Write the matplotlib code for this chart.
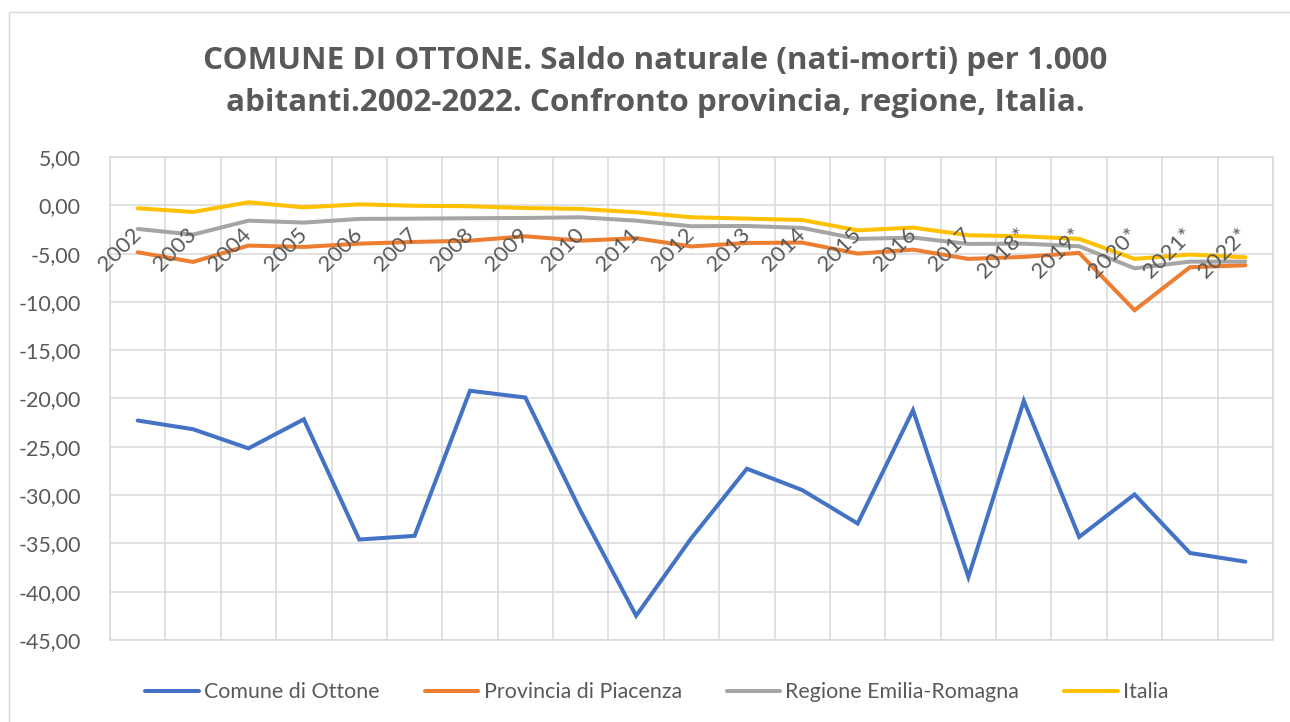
"""
Saldo naturale per 1.000 abitanti, Comune di Ottone
confronto con provincia, regione e Italia 2002-2022
"""

import matplotlib
matplotlib.use("Agg")
import matplotlib.pyplot as plt
import matplotlib.transforms as mtransforms
from matplotlib.ticker import FuncFormatter, MultipleLocator
from matplotlib.patches import Rectangle


## data
anni = ["2002", "2003", "2004", "2005", "2006", "2007", "2008", "2009", "2010",
        "2011", "2012", "2013", "2014", "2015", "2016", "2017", "2018*",
        "2019*", "2020*", "2021*", "2022*"]

comune = [-22.28, -23.18, -25.16, -22.15, -34.60, -34.22, -19.20, -19.90,
          -31.66, -42.49, -34.43, -27.27, -29.48, -32.94, -21.21, -38.48,
          -20.24, -34.33, -29.93, -35.99, -36.89]

provincia = [-4.86, -5.86, -4.17, -4.31, -3.97, -3.79, -3.66, -3.21, -3.66,
             -3.41, -4.26, -3.90, -3.86, -5.00, -4.59, -5.55, -5.34, -4.93,
             -10.86, -6.41, -6.21]

regione = [-2.45, -3.03, -1.59, -1.79, -1.41, -1.38, -1.34, -1.31, -1.24,
           -1.59, -2.17, -2.14, -2.34, -3.48, -3.34, -4.00, -3.97, -4.24,
           -6.52, -5.83, -5.83]

italia = [-0.31, -0.69, 0.31, -0.21, 0.10, -0.05, -0.10, -0.28, -0.38,
          -0.72, -1.24, -1.38, -1.52, -2.59, -2.31, -3.10, -3.21, -3.48,
          -5.55, -5.10, -5.38]

serie = ["Comune di Ottone", "Provincia di Piacenza",
         "Regione Emilia-Romagna", "Italia"]
colori = ["#4472C4", "#ED7D31", "#A5A5A5", "#FFC000"]

titolo = ["COMUNE DI OTTONE. Saldo naturale (nati-morti) per 1.000",
          "abitanti.2002-2022. Confronto provincia, regione, Italia."]


def main():
    plt.rcParams["font.family"] = ["Lato", "DejaVu Sans"]
    testo = "#595959"
    griglia = "#D9D9D9"

    fig = plt.figure(figsize=(12.9, 7.22), dpi=100)
    ax = fig.add_axes([110 / 1290, 1 - 640 / 722, 1163 / 1290, 483 / 722])

    ## chart border
    fig.patches.append(Rectangle((9 / 1290, -0.01), 1.0, 1 - 12 / 722 + 0.01,
                                 transform=fig.transFigure, fill=False,
                                 edgecolor=griglia, linewidth=1.0))

    ## lines
    x = list(range(len(anni)))
    for valori, nome, col in zip([comune, provincia, regione, italia], serie, colori):
        ax.plot(x, valori, color=col, linewidth=2.9, label=nome,
                solid_capstyle="round", solid_joinstyle="miter", zorder=3)

    ## axes
    ax.set_xlim(-0.5, len(anni) - 0.5)
    ax.set_ylim(-45, 5)
    ax.yaxis.set_major_locator(MultipleLocator(5))
    ax.yaxis.set_major_formatter(FuncFormatter(lambda v, p: f"{v:.2f}".replace(".", ",")))
    ax.set_xticks([i - 0.5 for i in range(len(anni) + 1)])
    ax.set_xticklabels([])
    ax.grid(True, color=griglia, linewidth=1.1, zorder=0)
    ax.set_axisbelow(True)
    for s in ax.spines.values():
        s.set_color(griglia)
        s.set_linewidth(1.1)
    ax.tick_params(axis="both", length=0, colors=testo, labelsize=15.4)
    ax.tick_params(axis="y", pad=21)

    ## category labels at the zero line, drawn over the lines
    off = mtransforms.offset_copy(ax.transData, fig=fig, x=-7, y=-19, units="dots")
    for i, a in enumerate(anni):
        ax.text(i, 0, a, transform=off, rotation=45, rotation_mode="anchor",
                ha="right", va="top", fontsize=16, color=testo, zorder=4)

    ## title
    for riga, yb in zip(titolo, [69, 111]):
        fig.text(655 / 1290, 1 - yb / 722, riga, ha="center", va="baseline",
                 fontsize=22.6, fontweight="bold", color=testo,
                 family=["Open Sans", "DejaVu Sans"])

    ## legend
    fig.legend(loc="center", bbox_to_anchor=(657 / 1290, 1 - 692 / 722), ncol=4,
               frameon=False, fontsize=15.4, labelcolor=testo,
               handlelength=2.5, handletextpad=0.25, columnspacing=2.1)

    fig.savefig("out.png", dpi=100, facecolor="white")


if __name__ == "__main__":
    main()
